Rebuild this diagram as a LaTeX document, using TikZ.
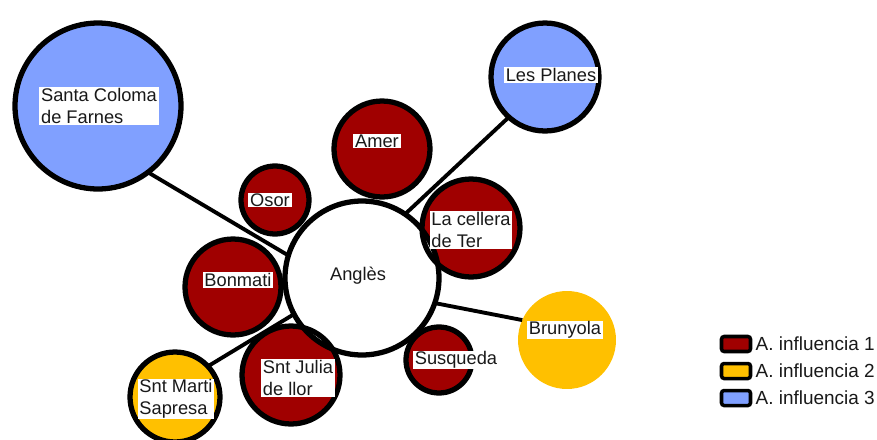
\documentclass[tikz,border=0pt]{standalone}
\usepackage{fontspec}
\setmainfont{Liberation Sans}
\usetikzlibrary{positioning}

\definecolor{infl1}{RGB}{160,0,0}
\definecolor{infl2}{RGB}{255,192,0}
\definecolor{infl3}{RGB}{128,160,255}
\definecolor{ink}{RGB}{25,25,25}

\begin{document}
\begin{tikzpicture}[
    x=0.02cm, y=-0.02cm,
    every node/.style={align=left, text=ink, font=\fontsize{10.4}{12.5}\selectfont},
    bubble/.style={circle, inner sep=0pt, outer sep=0pt, minimum size=#1*0.4mm},
    ring/.style={draw=black, line width=3pt},
    link/.style={draw=black, line width=2.2pt},
    tag/.style={fill=white, inner xsep=1pt, inner ysep=0.5pt},
    keybox/.style={draw=black, line width=2pt, rounded corners=1.5pt, minimum width=0.58cm, minimum height=0.3cm, inner sep=0pt},
    legtext/.style={inner sep=0pt, font=\fontsize{10.8}{12.5}\selectfont}
]
    \useasboundingbox (0,0) rectangle (877,440);

    % Bubbles
    \node[bubble=83, fill=infl3] (sc) at (98,106) {};
    \node[bubble=54, fill=infl3] (lp) at (545,77) {};
    \node[bubble=48, fill=infl1] (am) at (382,149) {};
    \node[bubble=34, fill=infl1] (os) at (275,200) {};
    \node[bubble=49, fill=infl1] (lac) at (471,228) {};
    \node[bubble=48, fill=infl1] (bon) at (233,287) {};
    \node[bubble=49, fill=infl1] (sju) at (291,375) {};
    \node[bubble=33, fill=infl1] (sus) at (439,360) {};
    \node[bubble=45, fill=infl2] (sma) at (175,397) {};
    \node[bubble=49, fill=infl2] (bru) at (567,340) {};
    \node[bubble=77, fill=white] (ang) at (362,278) {};

    % Links to the centre
    \draw[link] (sc.307) -- (ang.163);
    \draw[link] (lp.228) -- (ang.56);
    \draw[link] (ang.341) -- (bru.156);
    \draw[link] (sma.43) -- (ang.208);

    % Outlines on top
    \foreach \n/\r in {sc/83, lp/54, am/48, os/34, lac/49, bon/48, sju/49, sus/33, sma/45, ang/77}
        \draw[ring] (\n) circle[radius=\r*0.2mm];

    % Labels
    \node[tag] (sctxt) at (99,106) {Santa Coloma\\de Farnes};
    \node[tag] (lptxt) at (551,75) {Les Planes};
    \node[tag] (amtxt) at (377,141) {Amer};
    \node[tag] (ostxt) at (270,200) {Osor};
    \node[tag] (lactxt) at (471,230) {La cellera\\de Ter};
    \node[tag] (bontxt) at (238,280) {Bonmati};
    \node (angtxt) at (358,276) {Anglès};
    \node[tag] (sjutxt) at (298,378) {Snt Julia\\de llor};
    \node[tag] (sustxt) at (456,360) {Susqueda};
    \node[tag] (smatxt) at (176,399) {Snt Marti\\Sapresa};
    \node[tag] (brutxt) at (565,330) {Brunyola};

    % Legend
    \node[keybox, fill=infl1] (key1) at (736,344) {};
    \node[keybox, fill=infl2, below=0.17cm of key1] (key2) {};
    \node[keybox, fill=infl3, below=0.17cm of key2] (key3) {};
    \node[legtext, right=0.6mm of key1] (leg1) {A. influencia 1};
    \node[legtext, right=0.6mm of key2] (leg2) {A. influencia 2};
    \node[legtext, right=0.6mm of key3] (leg3) {A. influencia 3};
\end{tikzpicture}
\end{document}
